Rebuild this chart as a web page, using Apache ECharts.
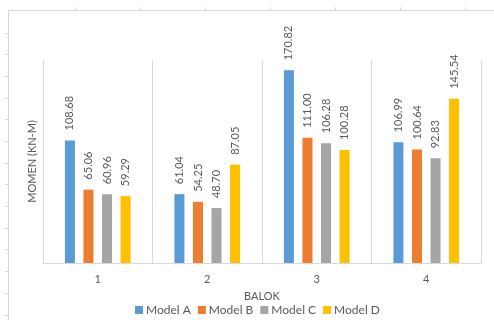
<!DOCTYPE html>
<html>
<head>
<meta charset="utf-8">
<script src="https://cdn.jsdelivr.net/npm/echarts@6/dist/echarts.min.js"></script>
<style>
  html, body { margin: 0; padding: 0; background: #fff; }
  #chart { width: 494px; height: 320px; }
</style>
</head>
<body>
<div id="chart"></div>
<script>
// Beam moments per model
const categories = ['1', '2', '3', '4'];
const modelA = [108.68, 61.04, 170.82, 106.99];
const modelB = [65.06, 54.25, 111.00, 100.64];
const modelC = [60.96, 48.70, 106.28, 92.83];
const modelD = [59.29, 87.05, 100.28, 145.54];
const seriesNames = ['Model A', 'Model B', 'Model C', 'Model D'];
const seriesColors = ['#5B9BD5', '#ED7D31', '#A5A5A5', '#FFC000'];
const seriesData = [modelA, modelB, modelC, modelD];

const textColor = '#595959';
const lineColor = '#D9D9D9';
const font = 'Lato, "Open Sans", sans-serif';

// Light sheet border with small tick marks around the chart
const frame = [];
frame.push({ type: 'line', shape: { x1: 8.5, y1: 10.5, x2: 8.5, y2: 320 }, style: { stroke: lineColor, lineWidth: 1 } });
frame.push({ type: 'line', shape: { x1: 8.5, y1: 10.5, x2: 494, y2: 10.5 }, style: { stroke: lineColor, lineWidth: 1 } });
for (let y = 32.5; y < 320; y += 21.7) {
  frame.push({ type: 'line', shape: { x1: 5, y1: Math.round(y) + 0.5, x2: 8.5, y2: Math.round(y) + 0.5 }, style: { stroke: lineColor, lineWidth: 1 } });
}
for (let x = 74.5; x < 494; x += 65) {
  frame.push({ type: 'line', shape: { x1: Math.round(x) + 0.5, y1: 7, x2: Math.round(x) + 0.5, y2: 10.5 }, style: { stroke: lineColor, lineWidth: 1 } });
}

const chart = echarts.init(document.getElementById('chart'), null, { renderer: 'canvas' });
chart.setOption({
  animation: false,
  backgroundColor: '#fff',
  textStyle: { fontFamily: font },
  graphic: frame,
  legend: {
    data: seriesNames,
    top: 304,
    left: 135,
    padding: 0,
    itemWidth: 8,
    itemHeight: 8,
    itemGap: 7,
    icon: 'rect',
    textStyle: { color: textColor, fontSize: 12, fontFamily: font, padding: [0, 0, 0, -2] }
  },
  grid: { left: 43, right: 13, top: 60, bottom: 57 },
  xAxis: {
    type: 'category',
    data: categories,
    name: 'BALOK',
    nameLocation: 'middle',
    nameGap: 28,
    nameTextStyle: { color: textColor, fontSize: 11, fontFamily: font },
    axisLine: { show: true, lineStyle: { color: lineColor } },
    axisTick: { show: false },
    axisLabel: { color: textColor, fontSize: 11, margin: 11, fontFamily: font },
    splitLine: { show: true, lineStyle: { color: lineColor } }
  },
  yAxis: {
    type: 'value',
    min: 0,
    max: 180,
    name: 'MOMEN (KN-M)',
    nameLocation: 'middle',
    nameGap: 5,
    nameTextStyle: { color: textColor, fontSize: 11, fontFamily: font },
    axisLine: { show: false },
    axisTick: { show: false },
    axisLabel: { show: false },
    splitLine: { show: false }
  },
  series: seriesData.map((d, i) => ({
    name: seriesNames[i],
    type: 'bar',
    data: d,
    barGap: '85%',
    barCategoryGap: '40%',
    itemStyle: { color: seriesColors[i] },
    label: {
      show: true,
      position: 'top',
      rotate: 90,
      align: 'left',
      verticalAlign: 'middle',
      distance: 10,
      color: textColor,
      fontSize: 11,
      fontFamily: font,
      formatter: p => p.value.toFixed(2)
    }
  }))
});
</script>
</body>
</html>
